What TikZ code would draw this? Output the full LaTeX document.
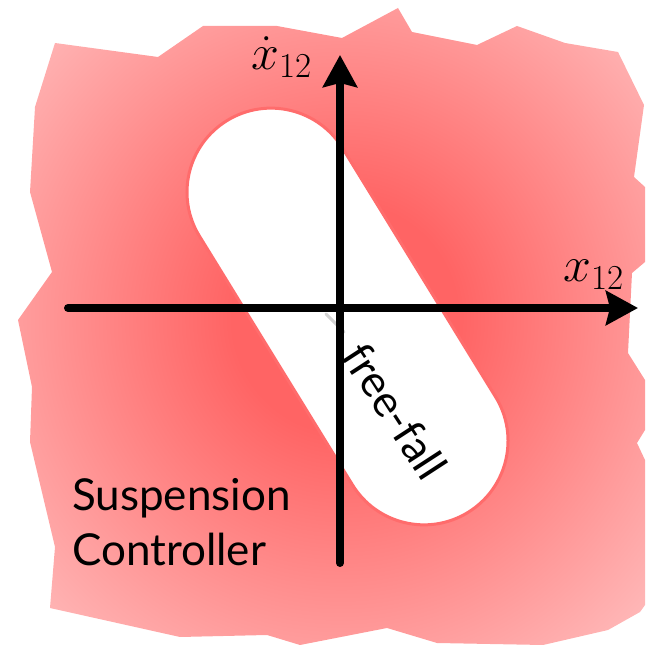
\RequirePackage{fix-cm}
\documentclass[tikz,border=0pt]{standalone}
\usepackage{fontspec}
\usepackage{tkz-euclide}
\usetikzlibrary{arrows.meta,shapes.misc}
\newfontfamily\labelfont{Lato}
\definecolor{blobRed}{RGB}{255,100,100}
\definecolor{blobPink}{RGB}{255,182,182}
\definecolor{pillRed}{RGB}{255,108,108}
\pgfdeclareradialshading{blobshade}{\pgfpoint{1.3bp}{0.8bp}}{%
  color(0bp)=(blobRed); color(9bp)=(blobRed); color(33bp)=(blobPink); color(50bp)=(blobPink)}
\tikzset{
  blob style/.style={draw=none,shade,shading=blobshade},
  pill style/.style={rounded rectangle,draw=pillRed,fill=white,line width=3pt,
    minimum width=460pt,minimum height=168pt,inner sep=0pt},
  axis style/.style={line width=8pt,-{Stealth[length=32pt,width=34pt,inset=4pt]}},
  math label/.style={inner sep=0pt,anchor=base west,font=\fontsize{50}{60}\selectfont},
  text label/.style={inner sep=0pt,font=\labelfont\fontsize{44}{55}\selectfont},
}

\begin{document}
\begin{tikzpicture}[x=1pt,y=1pt]
\useasboundingbox (0,0) rectangle (645,647);
% outline of the controller region
\tkzDefPoints{55/604/A1,158/590/A2,203/621/A3,277/621/A4,342/609/A5,398/639/A6,
  412/615/A7,477/602/A8,517/621/A9,565/604/A10,618/595/A11,644/542/A12,
  634/470/A13,645/460/A14,645/385/A15,632/374/A16,628/294/A17,645/267/A18,
  645/217/A19,637/204/A20,645/187/A21,645/42/A22,640/35/A23,608/17/A24,
  543/2/A25,437/4/A26,387/19/A27,300/2/A28,267/12/A29,180/10/A30,
  50/39/A31,55/100/A32,30/205/A33,32/260/A34,18/327/A35,52/375/A36,
  30/455/A37,35/540/A38}
\tkzDrawPolygon[blob style](A1,A2,A3,A4,A5,A6,A7,A8,A9,A10,A11,A12,A13,A14,A15,A16,A17,A18,A19,
  A20,A21,A22,A23,A24,A25,A26,A27,A28,A29,A30,A31,A32,A33,A34,A35,A36,A37,A38)
% free-fall region
\node[pill style,rotate=-58.4] (pill) at (347.5,330.5) {};
\draw[gray!35,line width=3pt,line cap=round] (326,333) -- (344,315);
% axes
\tkzDefPoints{68/339/xStart,638/339/xEnd,340/84/yStart,340/592/yEnd}
\tkzDrawSegment[axis style](xStart,xEnd)
\tkzDrawSegment[axis style](yStart,yEnd)
\node[math label] (ydot) at (251,577) {$\dot x_{12}$};
\node[math label] (xlab) at (563,365) {$x_{12}$};
\node[text label,rotate=-57] (freefall) at (395,236) {free-fall};
\node[text label,align=left,anchor=north west] (susp) at (72,169) {Suspension\\Controller};
\end{tikzpicture}
\end{document}
